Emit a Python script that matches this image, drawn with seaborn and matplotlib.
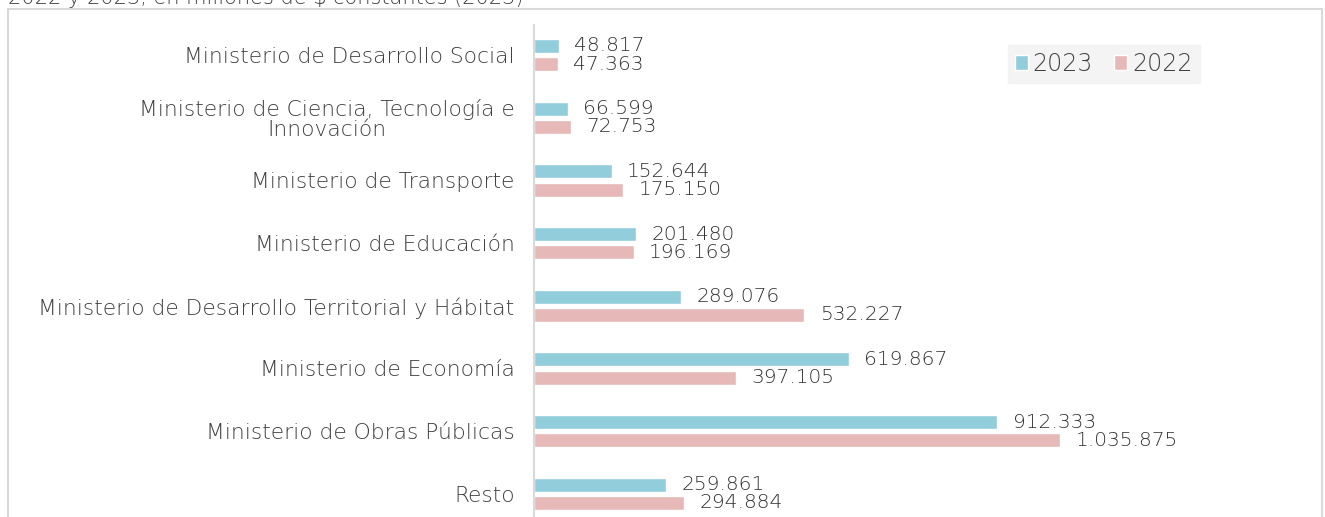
import pandas as pd
import matplotlib.pyplot as plt
import matplotlib.patches as mpatches
import seaborn as sns

categorias = [
    'Ministerio de Desarrollo Social',
    'Ministerio de Ciencia, Tecnología e\nInnovación',
    'Ministerio de Transporte',
    'Ministerio de Educación',
    'Ministerio de Desarrollo Territorial y Hábitat',
    'Ministerio de Economía',
    'Ministerio de Obras Públicas',
    'Resto',
]
valores_2023 = [48817, 66599, 152644, 201480, 289076, 619867, 912333, 259861]
valores_2022 = [47363, 72753, 175150, 196169, 532227, 397105, 1035875, 294884]
anios = ['2023', '2022']
colores = ['#92CDDC', '#E6B9B8']

df = pd.DataFrame({
    'Organismo': categorias * 2,
    'Año': ['2023'] * len(categorias) + ['2022'] * len(categorias),
    'Monto': valores_2023 + valores_2022,
})

sns.set_style('white')
plt.rcParams['font.family'] = ['DejaVu Sans']
plt.rcParams['font.weight'] = 'light'

W, H = 1325, 517
fig = plt.figure(figsize=(W / 100, H / 100), dpi=100)
ax = fig.add_axes([534 / W, 0, (1322 - 534) / W, (517 - 25) / H])

sns.barplot(data=df, y='Organismo', x='Monto', hue='Año', hue_order=anios,
            palette=colores, orient='h', width=0.58, gap=0.23, ax=ax,
            saturation=1)

def fmt(v):
    return f'{v:,}'.replace(',', '.')

for cont in ax.containers:
    ax.bar_label(cont, labels=[fmt(int(b.get_width())) for b in cont],
                 padding=11, fontsize=14.5, color='#333333')

ax.set_xlim(0, 788 / 0.000508)
ax.set_ylim(len(categorias) - 1 + 0.37, -0.48)
ax.set_xlabel('')
ax.set_ylabel('')
ax.set_xticks([])
ax.tick_params(axis='y', length=0, pad=14, labelsize=15.7, labelcolor='#404040')
for lab in ax.get_yticklabels():
    lab.set_multialignment('center')
    lab.set_linespacing(1.0)
for s in ['top', 'right', 'bottom']:
    ax.spines[s].set_visible(False)
ax.spines['left'].set_color('#D9D9D9')
ax.spines['left'].set_linewidth(1.5)

leg = ax.legend(loc='upper left', bbox_to_anchor=((1008 - 534) / 788, (517 - 45) / 492),
                borderaxespad=0, ncol=2, frameon=True, fontsize=17,
                handlelength=0.55, handleheight=0.6, handletextpad=0.2,
                columnspacing=0.9, borderpad=0.3,
                labelcolor='#404040', fancybox=False)
leg.get_frame().set_facecolor('#F2F2F2')
leg.get_frame().set_edgecolor('#F2F2F2')

fig.patches.append(mpatches.Rectangle((8 / W, -0.1), (1322 - 8) / W, 1.1 - 9 / H,
                                      transform=fig.transFigure, fill=False,
                                      edgecolor='#D9D9D9', linewidth=1.5))
fig.text(8 / W, 1 - 4 / H, '2022 y 2023, en millones de $ constantes (2023)',
         fontsize=15, color='#404040', va='baseline', ha='left')

fig.savefig('out.png', dpi=100)
